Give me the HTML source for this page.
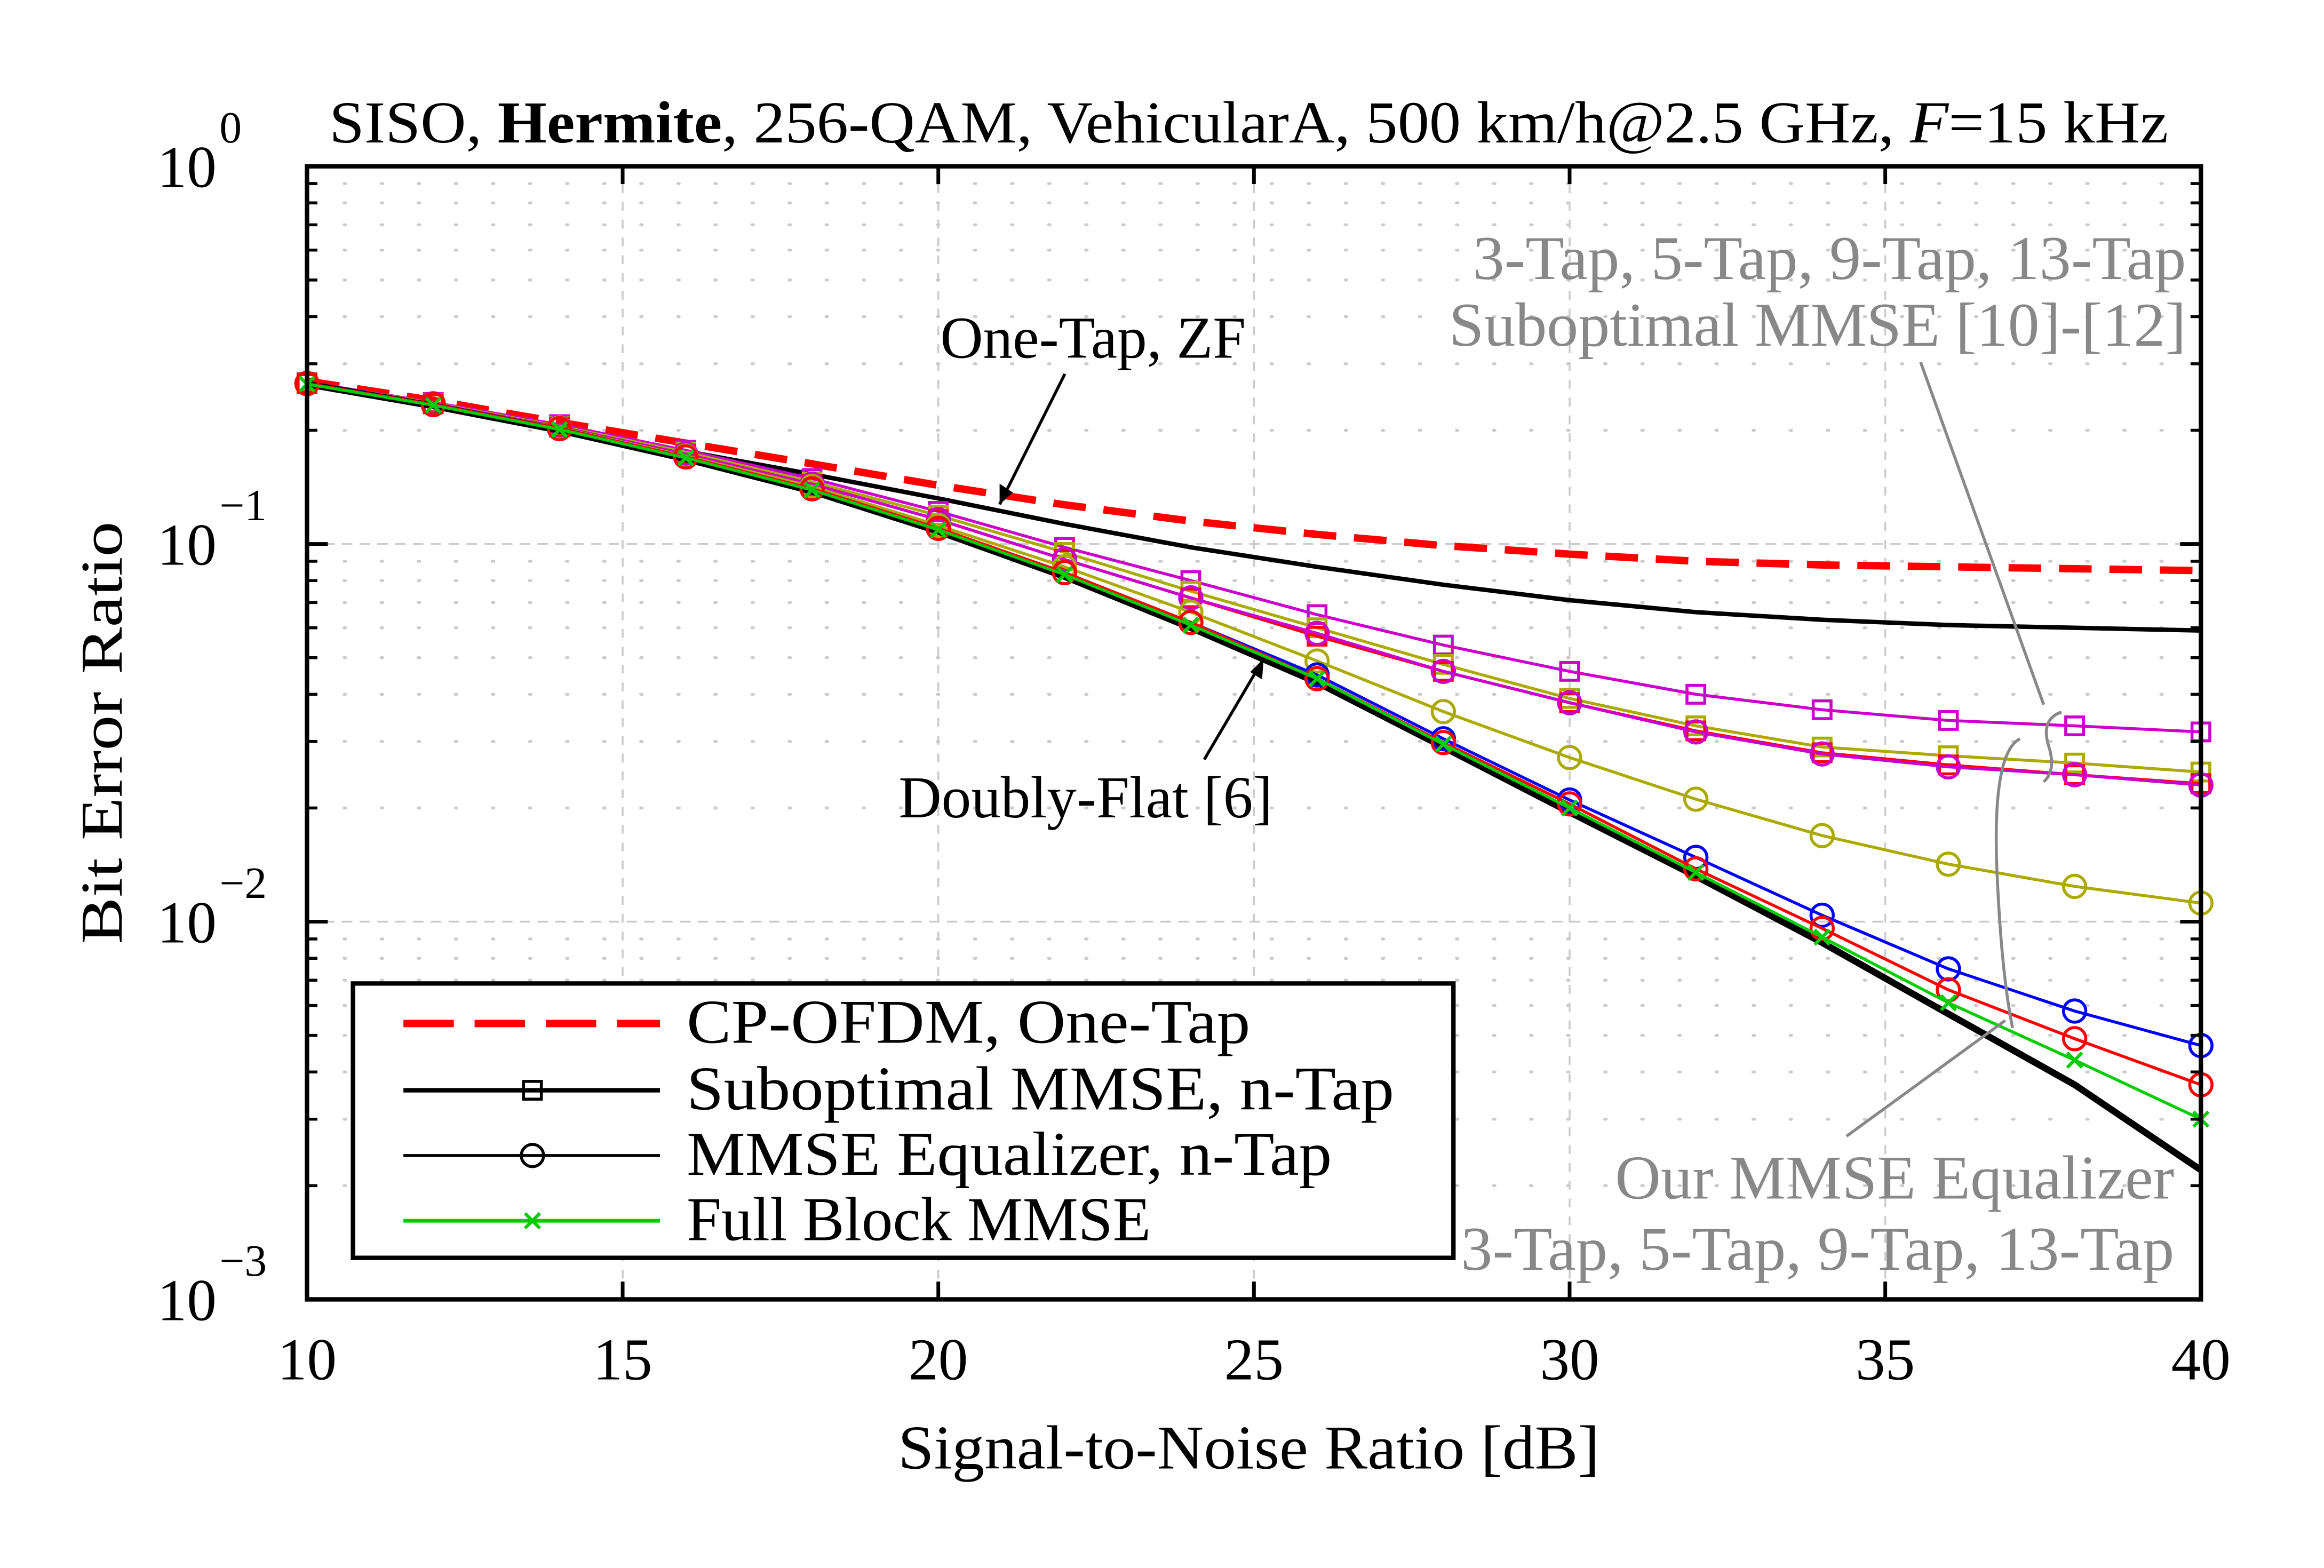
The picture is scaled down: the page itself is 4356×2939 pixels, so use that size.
<!DOCTYPE html>
<html><head><meta charset="utf-8"><style>
html,body{margin:0;padding:0;background:#fff;}
svg{display:block;font-family:"Liberation Serif",serif;}
</style></head><body>
<svg id="chart" width="4356" height="2939" viewBox="0 0 1567 1057" xmlns="http://www.w3.org/2000/svg">
<g id="grid"></g>
<g id="series"></g>
<g id="axes"></g>
</svg>
<script>
const snr = [10,12,14,16,18,20,22,24,26,28,30,32,34,36,38,40];
const cpOfdm = [0.27,0.24,0.21,0.185,0.163,0.143,0.127,0.115,0.106,0.099,0.094,0.09,0.088,0.087,0.086,0.085];
const oneTapZF = [0.265,0.233,0.203,0.176,0.153,0.132,0.113,0.098,0.087,0.078,0.071,0.066,0.063,0.061,0.06,0.059];
const doublyFlat = [0.265,0.232,0.2,0.168,0.138,0.108,0.082,0.06,0.043,0.029,0.0195,0.0132,0.0088,0.0057,0.0037,0.0022];
const fullBlock = [0.265,0.233,0.201,0.169,0.139,0.109,0.083,0.061,0.044,0.0295,0.020,0.0135,0.0091,0.0061,0.0043,0.0030];
const mmseRed = [0.266,0.234,0.202,0.17,0.14,0.11,0.084,0.062,0.044,0.0298,0.0205,0.0138,0.0096,0.0066,0.0049,0.0037];
const mmseBlue = [0.266,0.234,0.202,0.17,0.14,0.11,0.084,0.062,0.045,0.0305,0.021,0.0148,0.0104,0.0075,0.0058,0.0047];
const mmseYellow = [0.266,0.234,0.203,0.171,0.142,0.112,0.087,0.066,0.049,0.036,0.0272,0.0211,0.0169,0.0142,0.0124,0.0112];
const mmseMagenta = [0.266,0.235,0.204,0.173,0.144,0.116,0.091,0.072,0.058,0.046,0.038,0.0318,0.0278,0.0257,0.0245,0.023];
const subRed = [0.266,0.235,0.204,0.173,0.144,0.116,0.091,0.072,0.057,0.046,0.038,0.032,0.028,0.026,0.0245,0.0232];
const subYellow = [0.267,0.236,0.205,0.175,0.146,0.119,0.095,0.075,0.06,0.048,0.039,0.033,0.029,0.0275,0.0263,0.0249];
const subMagenta = [0.268,0.237,0.207,0.177,0.149,0.122,0.098,0.08,0.065,0.054,0.046,0.04,0.0364,0.0341,0.033,0.0318];
const xTicks = [10,15,20,25,30,35,40];
const yExp = [0,-1,-2,-3];

const X0=207,X1=1484,Y0=876,Y1=112;
const xs = v => X0+(v-10)/30*(X1-X0);
const ys = v => Y0-(Math.log10(v)+3)/3*(Y0-Y1);
const NS="http://www.w3.org/2000/svg";
function mk(tag,attrs,parent){const e=document.createElementNS(NS,tag);for(const k in attrs)e.setAttribute(k,attrs[k]);parent.appendChild(e);return e;}
const grid=document.getElementById('grid'), ser=document.getElementById('series'), axes=document.getElementById('axes');

xTicks.slice(1,-1).forEach(t=>{const l=mk('line',{x1:xs(t),x2:xs(t),y1:Y1,y2:Y0,stroke:'#ccc','stroke-width':1.3,'stroke-dasharray':'6,6'},grid);
});
for(let d=-3;d<0;d++){for(let m=2;m<=10;m++){const v=m*Math.pow(10,d);const y=ys(v);
 const l=mk('line',{x1:X0,x2:X1,y1:y,y2:y,stroke:'#ccc','stroke-width':m===10?1.3:2,'stroke-dasharray':m===10?'6,6':'1,24','stroke-linecap':'round'},grid);
 
 if(m<10){const t=mk('line',{x1:X0,x2:X0+7,y1:y,y2:y,stroke:'#000','stroke-width':2},axes);
 const t2=mk('line',{x1:X1,x2:X1-7,y1:y,y2:y,stroke:'#000','stroke-width':2},axes);}}}

function line(data,color,w,name,dash){const p=mk('polyline',{points:snr.map((s,i)=>xs(s)+','+ys(data[i])).join(' '),fill:'none',stroke:color,'stroke-width':w,'stroke-dasharray':dash||'none'},ser);
 }
function markers(data,color,type,name){data.forEach((v,i)=>{const x=xs(snr[i]),y=ys(v);let e;
 if(type==='sq')e=mk('rect',{x:x-6,y:y-6,width:12,height:12,fill:'none',stroke:color,'stroke-width':2},ser);
 else if(type==='ci')e=mk('circle',{cx:x,cy:y,r:7.5,fill:'none',stroke:color,'stroke-width':2},ser);
 else e=mk('path',{d:`M${x-5},${y-5}L${x+5},${y+5}M${x-5},${y+5}L${x+5},${y-5}`,stroke:color,'stroke-width':2.2},ser);
 });}

line(cpOfdm,'#f00',5,'cp-ofdm-line','22,12');
line(oneTapZF,'#000',3,'one-tap-zf-line');
line(subMagenta,'#c0c',2,'suboptimal-magenta-line');markers(subMagenta,'#c0c','sq','suboptimal-magenta');
line(subYellow,'#aa0',2,'suboptimal-yellow-line');markers(subYellow,'#aa0','sq','suboptimal-yellow');
line(subRed,'#f00',2,'suboptimal-red-line');markers(subRed,'#f00','sq','suboptimal-red');
line(mmseMagenta,'#c0c',2,'mmse-magenta-line');markers(mmseMagenta,'#c0c','ci','mmse-magenta');
line(mmseYellow,'#aa0',2,'mmse-yellow-line');markers(mmseYellow,'#aa0','ci','mmse-yellow');
line(doublyFlat,'#000',4.5,'doubly-flat-line');
line(mmseBlue,'#00f',2,'mmse-blue-line');markers(mmseBlue,'#00f','ci','mmse-blue');
line(mmseRed,'#f00',2,'mmse-red-line');markers(mmseRed,'#f00','ci','mmse-red');
line(fullBlock,'#0c0',2,'full-block-line');markers(fullBlock,'#0c0','x','full-block');

const fr=mk('rect',{x:X0,y:Y1,width:X1-X0,height:Y0-Y1,fill:'none',stroke:'#000','stroke-width':3},axes);

xTicks.forEach(t=>{const x=xs(t);
 const a=mk('line',{x1:x,x2:x,y1:Y0,y2:Y0-12,stroke:'#000','stroke-width':2.5},axes);
 const b=mk('line',{x1:x,x2:x,y1:Y1,y2:Y1+12,stroke:'#000','stroke-width':2.5},axes);
 const tx=mk('text',{x:x,y:930,'text-anchor':'middle','font-size':40},axes);tx.textContent=t;});
yExp.forEach(e=>{const y=ys(Math.pow(10,e));
 const a=mk('line',{x1:X0,x2:X0+14,y1:y,y2:y,stroke:'#000','stroke-width':2.5},axes);
 const b=mk('line',{x1:X1,x2:X1-14,y1:y,y2:y,stroke:'#000','stroke-width':2.5},axes);
 const tx=mk('text',{x:106,y:y+14,'font-size':40},axes);tx.textContent='10';
 const sp=mk('text',{x:148,y:y-16,'font-size':30},axes);sp.textContent=e===0?'0':'\u2212'+(-e);});
</script>
<svg style="position:absolute;left:0;top:0" width="4356" height="2939" viewBox="0 0 1567 1057" xmlns="http://www.w3.org/2000/svg" font-family="Liberation Serif, serif">
<text x="842" y="96" text-anchor="middle" font-size="40" textLength="1240" lengthAdjust="spacingAndGlyphs">SISO, <tspan font-weight="bold">Hermite</tspan>, 256-QAM, VehicularA, 500 km/h@2.5 GHz, <tspan font-style="italic">F</tspan>=15 kHz</text>
<text x="842" y="990" text-anchor="middle" font-size="42" textLength="473" lengthAdjust="spacingAndGlyphs">Signal-to-Noise Ratio [dB]</text>
<text transform="translate(82,494) rotate(-90)" text-anchor="middle" font-size="40" textLength="285" lengthAdjust="spacingAndGlyphs">Bit Error Ratio</text>
<g>
<text x="737" y="241" text-anchor="middle" font-size="40">One-Tap, ZF</text>
<line x1="718" y1="252" x2="674" y2="340" stroke="#000" stroke-width="2"/><path d="M674,340 l0,-14 l9,6z" fill="#000"/></g>
<g>
<text x="732" y="551" text-anchor="middle" font-size="40">Doubly-Flat [6]</text>
<line x1="812" y1="512" x2="852" y2="444" stroke="#000" stroke-width="2"/><path d="M852,444 l-1,14 l-8,-5z" fill="#000"/></g>
<g fill="#888" font-size="42">
<text x="1474" y="188" text-anchor="end" textLength="481" lengthAdjust="spacingAndGlyphs">3-Tap, 5-Tap, 9-Tap, 13-Tap</text>
<text x="1474" y="233" text-anchor="end" textLength="497" lengthAdjust="spacingAndGlyphs">Suboptimal MMSE [10]-[12]</text>
<line x1="1295" y1="244" x2="1378" y2="475" stroke="#888" stroke-width="2"/>
<path d="M1390,480 q-15,5 -8,25 q4,15 -4,22" fill="none" stroke="#888" stroke-width="2"/></g>
<g fill="#888" font-size="42">
<text x="1466" y="808" text-anchor="end" textLength="377" lengthAdjust="spacingAndGlyphs">Our MMSE Equalizer</text>
<text x="1466" y="856" text-anchor="end" textLength="481" lengthAdjust="spacingAndGlyphs">3-Tap, 5-Tap, 9-Tap, 13-Tap</text>
<line x1="1245" y1="766" x2="1352" y2="688" stroke="#888" stroke-width="2"/>
<path d="M1362,498 q-20,10 -15,100 q3,60 10,95" fill="none" stroke="#888" stroke-width="2"/></g>
<g>
<rect x="238" y="663" width="742" height="185" fill="#fff" stroke="#000" stroke-width="3"/>
<g><line x1="272" y1="690" x2="445" y2="690" stroke="#f00" stroke-width="5" stroke-dasharray="34,14"/><text x="463" y="703" font-size="42" textLength="380" lengthAdjust="spacingAndGlyphs">CP-OFDM, One-Tap</text></g>
<g><line x1="272" y1="735" x2="445" y2="735" stroke="#000" stroke-width="3"/><rect x="353" y="729" width="12" height="12" fill="none" stroke="#000" stroke-width="2"/><text x="463" y="748" font-size="42" textLength="477" lengthAdjust="spacingAndGlyphs">Suboptimal MMSE, n-Tap</text></g>
<g><line x1="272" y1="779" x2="445" y2="779" stroke="#000" stroke-width="2"/><circle cx="359" cy="779" r="7.5" fill="none" stroke="#000" stroke-width="2"/><text x="463" y="792" font-size="42" textLength="435" lengthAdjust="spacingAndGlyphs">MMSE Equalizer, n-Tap</text></g>
<g><line x1="272" y1="823" x2="445" y2="823" stroke="#0c0" stroke-width="2.5"/><path d="M354,818 l10,10 M354,828 l10,-10" stroke="#0c0" stroke-width="2.2"/><text x="463" y="836" font-size="42" textLength="313" lengthAdjust="spacingAndGlyphs">Full Block MMSE</text></g>
</g>
</svg>
</body></html>
